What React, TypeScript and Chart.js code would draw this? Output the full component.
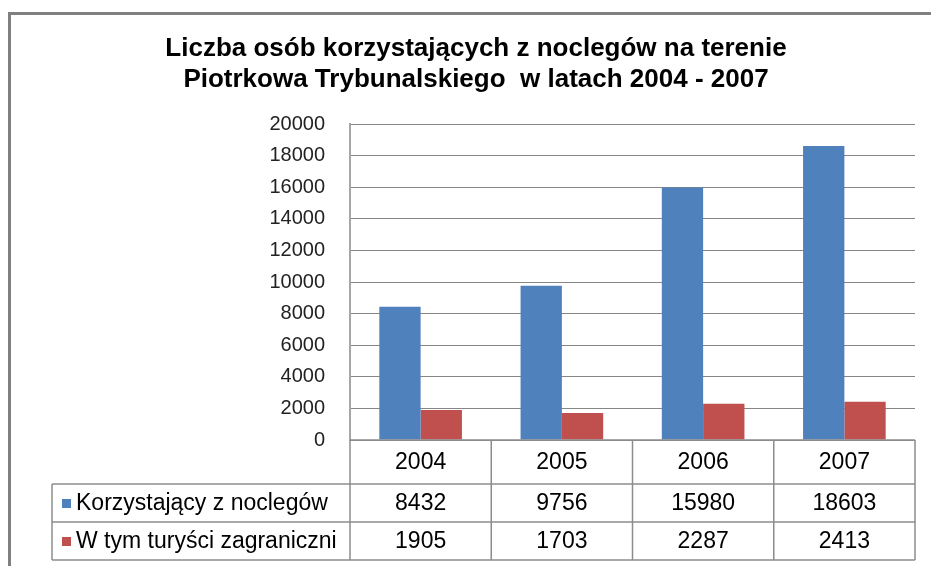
import React, { useEffect, useRef } from "react";
import { Chart, registerables } from "chart.js";

Chart.register(...registerables);

const TITLE_LINES = [
  "Liczba osób korzystających z noclegów na terenie",
  "Piotrkowa Trybunalskiego  w latach 2004 - 2007",
];
const YEARS = ["2004", "2005", "2006", "2007"];
const SERIES_NAMES = ["Korzystający z noclegów", "W tym turyści zagraniczni"];
const GUESTS = [8432, 9756, 15980, 18603];
const FOREIGN_TOURISTS = [1905, 1703, 2287, 2413];
const SERIES_COLORS = ["#4F81BD", "#C0504D"];
const Y_MIN = 0;
const Y_MAX = 20000;
const Y_STEP = 2000;

const FONT = "'Liberation Sans', Arial, sans-serif";

const framePlugin = {
  id: "frame",
  beforeDraw(chart: any) {
    const ctx = chart.ctx;
    ctx.save();
    ctx.fillStyle = "#FFFFFF";
    ctx.fillRect(0, 0, chart.width, chart.height);
    ctx.strokeStyle = "#808080";
    ctx.lineWidth = 3;
    ctx.beginPath();
    ctx.moveTo(9.5, chart.height + 5);
    ctx.lineTo(9.5, 13.5);
    ctx.lineTo(chart.width + 5, 13.5);
    ctx.stroke();
    ctx.restore();
  },
};

const tablePlugin = {
  id: "dataTable",
  afterDraw(chart: any) {
    const ctx = chart.ctx;
    const area = chart.chartArea;
    const xs = chart.scales.x;
    const n = chart.data.labels.length;
    const colW = (area.right - area.left) / n;
    const top = area.bottom;
    const headH = 44;
    const rowH = 38;
    const legendLeft = 52;
    const nRows = chart.data.datasets.length;
    const bottom = top + headH + nRows * rowH;

    ctx.save();
    ctx.strokeStyle = "#8C8C8C";
    ctx.lineWidth = 1.5;
    const line = (x1: number, y1: number, x2: number, y2: number) => {
      ctx.beginPath();
      ctx.moveTo(x1, y1);
      ctx.lineTo(x2, y2);
      ctx.stroke();
    };
    line(area.left, top, area.right, top);
    for (let r = 0; r <= nRows; r++) {
      const y = top + headH + r * rowH;
      line(legendLeft, y, area.right, y);
    }
    for (let i = 0; i <= n; i++) {
      const x = area.left + i * colW;
      line(x, top, x, bottom);
    }
    line(legendLeft, top + headH, legendLeft, bottom);

    ctx.fillStyle = "#000000";
    ctx.font = `23px ${FONT}`;
    ctx.textAlign = "center";
    ctx.textBaseline = "middle";
    chart.data.labels.forEach((lab: string, i: number) => {
      ctx.fillText(lab, xs.getPixelForValue(i), top + headH / 2 + 1);
    });
    chart.data.datasets.forEach((ds: any, r: number) => {
      const cy = top + headH + r * rowH + rowH / 2 + 1;
      ctx.textAlign = "center";
      ctx.fillStyle = "#000000";
      ds.data.forEach((v: number, i: number) => {
        ctx.fillText(String(v), xs.getPixelForValue(i), cy);
      });
      ctx.fillStyle = ds.backgroundColor;
      ctx.fillRect(62, cy - 5, 9, 9);
      ctx.fillStyle = "#000000";
      ctx.textAlign = "left";
      ctx.fillText(ds.label, 76, cy);
    });
    ctx.restore();
  },
};

export default function App() {
  const ref = useRef<HTMLCanvasElement | null>(null);

  useEffect(() => {
    document.body.style.margin = "0";
    const canvas = ref.current;
    if (!canvas) return;
    const chart = new Chart(canvas, {
      type: "bar",
      data: {
        labels: YEARS,
        datasets: [
          {
            label: SERIES_NAMES[0],
            data: GUESTS,
            backgroundColor: SERIES_COLORS[0],
            categoryPercentage: 0.585,
            barPercentage: 1,
          },
          {
            label: SERIES_NAMES[1],
            data: FOREIGN_TOURISTS,
            backgroundColor: SERIES_COLORS[1],
            categoryPercentage: 0.585,
            barPercentage: 1,
          },
        ],
      },
      options: {
        responsive: false,
        animation: false,
        layout: { padding: { left: 37, right: 16, top: 0, bottom: 126 } },
        plugins: {
          legend: { display: false },
          tooltip: { enabled: false },
          title: {
            display: true,
            text: TITLE_LINES,
            color: "#000000",
            font: { family: FONT, size: 26, weight: "bold", lineHeight: 31 / 26 },
            padding: { top: 33, bottom: 29 },
          },
        },
        scales: {
          x: {
            display: false,
            grid: { display: false },
          },
          y: {
            min: Y_MIN,
            max: Y_MAX,
            afterFit: (scale: any) => {
              scale.width = 313;
            },
            ticks: {
              stepSize: Y_STEP,
              padding: 25,
              color: "#222222",
              font: { family: FONT, size: 20 },
              callback: (v: any) => String(v),
            },
            grid: {
              color: "#868686",
              lineWidth: 1,
              drawTicks: false,
            },
            border: { color: "#A6A6A6", width: 2 },
          },
        },
      },
      plugins: [framePlugin, tablePlugin],
    });
    return () => chart.destroy();
  }, []);

  return (
    <div style={{ width: 931, height: 566 }}>
      <canvas ref={ref} width={931} height={566} style={{ display: "block" }} />
    </div>
  );
}
